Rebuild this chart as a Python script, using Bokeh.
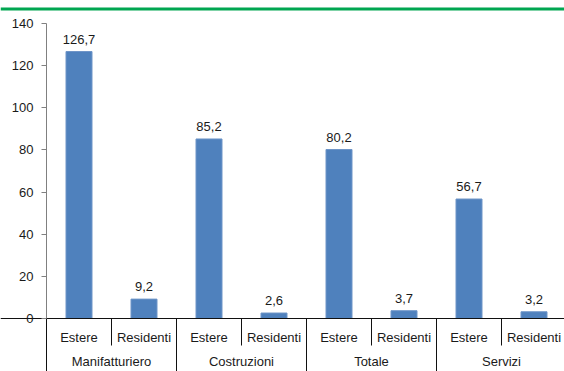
from bokeh.plotting import figure
from bokeh.models import Range1d, LinearAxis, FixedTicker, Span, ColumnDataSource
from bokeh.core.properties import value
from bokeh.embed import file_html
from bokeh.resources import INLINE

groups = ["Manifatturiero", "Costruzioni", "Totale", "Servizi"]
subgroups = ["Estere", "Residenti"]
values = [126.7, 9.2, 85.2, 2.6, 80.2, 3.7, 56.7, 3.2]
y_ticks = [0, 20, 40, 60, 80, 100, 120, 140]

FONT = "Liberation Sans"
FS = "13px"
TXT = "#1a1a1a"
W, H = 564, 371
Y0_PX, Y140_PX = 318, 23
px_per_unit = (Y0_PX - Y140_PX) / 140.0
y_top = 140 + Y140_PX / px_per_unit
y_bot = -(H - Y0_PX) / px_per_unit
AX_X = 46
cat_w = 65.0
x_left = -AX_X / cat_w
x_right = (W - AX_X) / cat_w

n_sub = len(subgroups)
xs = [i + 0.5 for i in range(len(values))]
labels = [f"{v:.1f}".replace(".", ",") for v in values]
label_y = [v + 12.5 / px_per_unit for v in values]
src = ColumnDataSource(dict(x=xs, top=values, ly=label_y, label=labels))

p = figure(width=W, height=H, output_backend="svg", toolbar_location=None,
           x_range=Range1d(x_left, x_right), y_range=Range1d(y_bot, y_top),
           min_border=0, min_border_left=0, min_border_right=0,
           min_border_top=0, min_border_bottom=0,
           x_axis_location=None, y_axis_location=None)
p.outline_line_color = None
p.grid.visible = False
p.background_fill_color = "white"
p.border_fill_color = "white"

# top green rule
p.add_layout(Span(location=y_top - 8.5 / px_per_unit, dimension="width",
                  line_color="#00A651", line_width=3))

p.vbar(x="x", top="top", bottom=0, width=0.4, source=src,
       fill_color="#4F81BD", line_color="#6E95C8", line_width=1)
p.text(x="x", y="ly", text="label", source=src, text_align="center",
       text_baseline="middle", text_font=value(FONT),
       text_font_size=FS, text_color=TXT)

# y axis
ya = LinearAxis(fixed_location=0, bounds=(0, 140),
                ticker=FixedTicker(ticks=y_ticks, minor_ticks=[]))
ya.axis_line_color = "#808080"
ya.major_tick_line_color = "#808080"
ya.major_tick_out = 5
ya.major_tick_in = 0
ya.major_label_standoff = 8
ya.major_label_text_font = FONT
ya.major_label_text_font_size = FS
ya.major_label_text_color = TXT
p.add_layout(ya, "left")

# x axis: subgroup labels
sub_over = {x: subgroups[i % n_sub] for i, x in enumerate(xs)}
xa = LinearAxis(fixed_location=0, ticker=FixedTicker(ticks=xs, minor_ticks=[]),
                major_label_overrides=sub_over)
xa.axis_line_color = "#111111"
xa.major_tick_line_color = None
xa.major_label_standoff = 5
xa.major_label_text_font = FONT
xa.major_label_text_font_size = FS
xa.major_label_text_color = TXT
p.add_layout(xa, "below")

# x axis: group labels
g_ticks = [g * n_sub + n_sub / 2 for g in range(len(groups))]
g_over = {t: groups[i] for i, t in enumerate(g_ticks)}
ga = LinearAxis(fixed_location=0, ticker=FixedTicker(ticks=g_ticks, minor_ticks=[]),
                major_label_overrides=g_over)
ga.axis_line_color = None
ga.major_tick_line_color = None
ga.major_label_standoff = 29
ga.major_label_text_font = FONT
ga.major_label_text_font_size = FS
ga.major_label_text_color = TXT
p.add_layout(ga, "below")

# separators
sep_sub = [g * n_sub + 1 for g in range(len(groups))]
sep_grp = [g * n_sub for g in range(len(groups) + 1)]
p.segment(x0=sep_sub, y0=[0] * len(sep_sub), x1=sep_sub,
          y1=[-27 / px_per_unit] * len(sep_sub), line_color="#111111", line_width=1)
p.segment(x0=sep_grp, y0=[0] * len(sep_grp), x1=sep_grp,
          y1=[y_bot] * len(sep_grp), line_color="#111111", line_width=1)

open("out.html", "w").write(file_html(p, INLINE))
